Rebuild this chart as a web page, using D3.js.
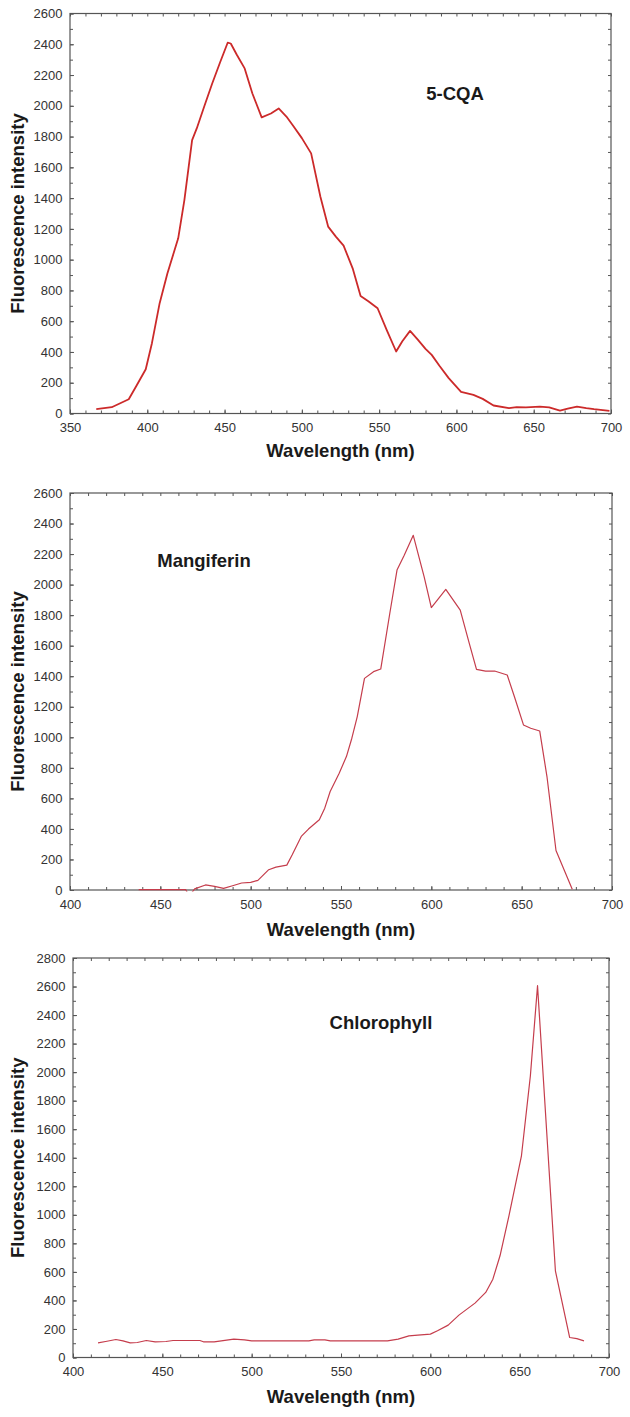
<!DOCTYPE html>
<html>
<head>
<meta charset="utf-8">
<script src="https://cdn.jsdelivr.net/npm/d3@7"></script>
<style>
  html, body { margin: 0; padding: 0; background: #fff; }
  svg { display: block; }
</style>
</head>
<body>
<svg id="chart" width="630" height="1417"></svg>
<script>
// ---------------- DATA ----------------
// Panel 1: 5-CQA
const cqaWavelength = [367, 377, 388, 393, 399, 403, 408, 413, 420, 424, 429, 432, 437, 442, 447, 452, 454, 458, 463, 468, 474, 480, 485, 490, 494, 500, 506, 512, 517, 522, 527, 533, 538, 543, 549, 555, 561, 565, 570, 575, 580, 584, 589, 595, 603, 611, 617, 624, 634, 639, 645, 654, 660, 667, 672, 678, 684, 689, 699];
const cqaIntensity  = [28, 41, 93, 180, 288, 457, 717, 910, 1139, 1387, 1777, 1853, 2000, 2145, 2280, 2410, 2405, 2330, 2243, 2080, 1925, 1950, 1983, 1930, 1875, 1790, 1691, 1409, 1215, 1150, 1091, 940, 764, 730, 684, 540, 403, 470, 537, 480, 420, 381, 310, 230, 141, 121, 95, 52, 35, 41, 40, 45, 40, 19, 32, 45, 35, 28, 17];

// Panel 2: Mangiferin
const mangWavelength = [438, 464, 466, 469, 475, 480, 485, 490, 495, 500, 504, 510, 514, 520, 523, 528, 532, 538, 541, 544, 549, 553, 556, 559, 563, 568, 572, 577, 581, 585, 590, 596, 600, 608, 616, 621, 625, 630, 635, 642, 646, 651, 655, 660, 664, 669, 678];
const mangIntensity  = [3, 3, -40, 7, 33, 24, 11, 28, 46, 50, 63, 133, 150, 163, 231, 351, 399, 460, 536, 645, 765, 874, 994, 1136, 1386, 1430, 1447, 1811, 2095, 2193, 2323, 2052, 1850, 1969, 1833, 1615, 1445, 1434, 1434, 1408, 1266, 1081, 1059, 1041, 743, 259, 5];

// Panel 3: Chlorophyll
const chlWavelength = [414, 419, 424, 428, 432, 436, 441, 446, 452, 456, 471, 473, 479, 483, 490, 496, 500, 532, 535, 541, 544, 576, 582, 588, 593, 600, 604, 610, 616, 625, 631, 635, 639, 644, 651, 656, 660, 670, 678, 682, 686];
const chlIntensity  = [103, 114, 126, 117, 103, 105, 119, 110, 112, 119, 119, 110, 110, 117, 129, 124, 117, 117, 124, 124, 117, 117, 129, 152, 157, 164, 187, 227, 297, 381, 456, 549, 713, 993, 1414, 1975, 2606, 608, 140, 132, 117];

// Tick labels
const xTicks1 = [350, 400, 450, 500, 550, 600, 650, 700];
const xTicks23 = [400, 450, 500, 550, 600, 650, 700];
const yTicks12 = [0, 200, 400, 600, 800, 1000, 1200, 1400, 1600, 1800, 2000, 2200, 2400, 2600];
const yTicks3 = [0, 200, 400, 600, 800, 1000, 1200, 1400, 1600, 1800, 2000, 2200, 2400, 2600, 2800];

const compoundNames = ["5-CQA", "Mangiferin", "Chlorophyll"];
const xTitle = "Wavelength (nm)";
const yTitle = "Fluorescence intensity";

// ---------------- DRAW ----------------
const svg = d3.select("#chart");

const panels = [
  { wl: cqaWavelength, val: cqaIntensity, name: compoundNames[0], xTicks: xTicks1, yTicks: yTicks12,
    box: { l: 70, r: 611, t: 13.5, b: 413.5 }, label: { x: 455, y: 100 }, xTitleY: 457,
    color: "#cc2a2a", width: 1.8 },
  { wl: mangWavelength, val: mangIntensity, name: compoundNames[1], xTicks: xTicks23, yTicks: yTicks12,
    box: { l: 70, r: 612, t: 493, b: 890 }, label: { x: 204, y: 567 }, xTitleY: 936,
    color: "#c53d4c", width: 1.2 },
  { wl: chlWavelength, val: chlIntensity, name: compoundNames[2], xTicks: xTicks23, yTicks: yTicks3,
    box: { l: 73, r: 609, t: 958, b: 1357.5 }, label: { x: 381, y: 1029 }, xTitleY: 1403,
    color: "#c53d4c", width: 1.2 }
];

const tickFont = "'Liberation Sans', Arial, sans-serif";

panels.forEach((p, i) => {
  const b = p.box;
  const xMin = p.xTicks[0], xMax = p.xTicks[p.xTicks.length - 1];
  const yMax = p.yTicks[p.yTicks.length - 1];
  const x = d3.scaleLinear().domain([xMin, xMax]).range([b.l, b.r]);
  const y = d3.scaleLinear().domain([0, yMax]).range([b.b, b.t]);

  const g = svg.append("g");

  // clip (slightly below the bottom axis so lines at zero stay visible)
  const clipId = "clip" + i;
  svg.append("defs").append("clipPath").attr("id", clipId)
    .append("rect").attr("x", b.l).attr("y", b.t).attr("width", b.r - b.l).attr("height", b.b - b.t + 1.5);

  const minorX = d3.range(xMin, xMax + 0.001, 10);
  const minorY = d3.range(0, yMax + 0.001, 100);

  function styleAxis(sel) {
    sel.select(".domain").remove();
    sel.selectAll(".tick line").attr("stroke", "#555").attr("stroke-width", 1);
    sel.selectAll(".tick text").attr("fill", "#333").attr("font-family", tickFont).attr("font-size", 13);
  }

  // minor ticks all sides
  g.append("g").attr("transform", `translate(0,${b.b})`)
    .call(d3.axisBottom(x).tickValues(minorX).tickSize(-3).tickFormat("")).call(styleAxis);
  g.append("g").attr("transform", `translate(0,${b.t})`)
    .call(d3.axisTop(x).tickValues(minorX).tickSize(-3).tickFormat("")).call(styleAxis);
  g.append("g").attr("transform", `translate(${b.l},0)`)
    .call(d3.axisLeft(y).tickValues(minorY).tickSize(-3).tickFormat("")).call(styleAxis);
  g.append("g").attr("transform", `translate(${b.r},0)`)
    .call(d3.axisRight(y).tickValues(minorY).tickSize(-3).tickFormat("")).call(styleAxis);

  // major ticks with labels
  g.append("g").attr("transform", `translate(0,${b.b})`)
    .call(d3.axisBottom(x).tickValues(p.xTicks).tickSize(-4).tickPadding(9.5).tickFormat(d3.format("d")))
    .call(styleAxis);
  g.append("g").attr("transform", `translate(${b.l},0)`)
    .call(d3.axisLeft(y).tickValues(p.yTicks).tickSize(-4).tickPadding(7.5).tickFormat(d3.format("d")))
    .call(styleAxis);

  // frame
  g.append("rect").attr("x", b.l).attr("y", b.t).attr("width", b.r - b.l).attr("height", b.b - b.t)
    .attr("fill", "none").attr("stroke", "#555").attr("stroke-width", 1.2);

  // line
  const pts = p.wl.map((w, k) => [w, p.val[k]]);
  const line = d3.line().x(d => x(d[0])).y(d => y(d[1]));
  g.append("path").datum(pts).attr("d", line)
    .attr("clip-path", `url(#${clipId})`)
    .attr("fill", "none").attr("stroke", p.color).attr("stroke-width", p.width)
    .attr("stroke-linejoin", "round");

  // compound label
  g.append("text").attr("x", p.label.x).attr("y", p.label.y).attr("text-anchor", "middle")
    .attr("font-family", tickFont).attr("font-weight", "bold").attr("font-size", 18.5)
    .attr("fill", "#1a1a1a").text(p.name);

  // axis titles
  g.append("text").attr("x", (b.l + b.r) / 2).attr("y", p.xTitleY).attr("text-anchor", "middle")
    .attr("font-family", tickFont).attr("font-weight", "bold").attr("font-size", 18.5)
    .attr("fill", "#1a1a1a").text(xTitle);
  g.append("text").attr("transform", `translate(24,${(b.t + b.b) / 2}) rotate(-90)`)
    .attr("text-anchor", "middle")
    .attr("font-family", tickFont).attr("font-weight", "bold").attr("font-size", 18.5)
    .attr("fill", "#1a1a1a").text(yTitle);
});
</script>
</body>
</html>
